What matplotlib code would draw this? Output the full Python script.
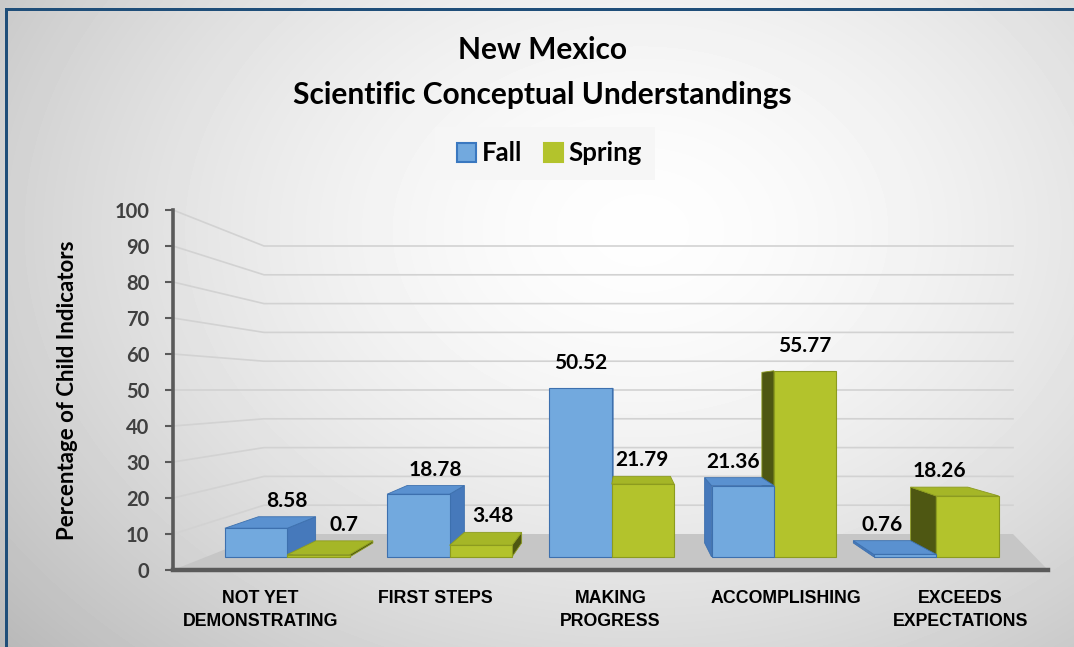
import matplotlib
matplotlib.use("Agg")
import matplotlib.pyplot as plt
import numpy as np
from matplotlib import font_manager
from matplotlib.patches import Polygon, Rectangle

# data
categories = ["NOT YET\nDEMONSTRATING", "FIRST STEPS", "MAKING\nPROGRESS",
              "ACCOMPLISHING", "EXCEEDS\nEXPECTATIONS"]
fall = [8.58, 18.78, 50.52, 21.36, 0.76]
spring = [0.7, 3.48, 21.79, 55.77, 18.26]
y_ticks = [0, 10, 20, 30, 40, 50, 60, 70, 80, 90, 100]
series_names = ["Fall", "Spring"]

W, H = 1074, 647

# fonts
installed = {f.name for f in font_manager.fontManager.ttflist}
MAIN_FONT = ["Lato", "DejaVu Sans"]
if "Liberation Sans Narrow" in installed:
    CAT_FONT, CAT_SIZE = ["Liberation Sans Narrow", "DejaVu Sans"], 15
else:
    CAT_FONT, CAT_SIZE = ["Liberation Sans", "DejaVu Sans"], 12.8
plt.rcParams["font.family"] = MAIN_FONT
plt.rcParams["font.weight"] = "bold"

# colours
FALL_FRONT, FALL_TOP, FALL_SIDE, FALL_EDGE = "#72a9de", "#5a91d0", "#4679bb", "#3d70ae"
SPR_FRONT, SPR_TOP, SPR_SIDE, SPR_EDGE = "#b3c32c", "#a5b627", "#4e5712", "#8c9b1f"
BORDER = "#1f4e79"
AXIS_GREY = "#5a5a5a"

# fake 3d perspective: vanishing point (data units) and depth scales
VX, VY = 2.1, 50.0
S_FRONT, S_BACK, S_WALL = 0.927, 0.85, 0.80
BAR_W = 0.385
WALL_RIGHT = 4.3


def proj(x, y, s):
    return VX + (x - VX) * s, VY + (y - VY) * s


def px(p):
    return p * 0.72


fig = plt.figure(figsize=(W / 100, H / 100), dpi=100, facecolor="#d4d4d4")

#######################################################################################################################
## background gradient + border
#######################################################################################################################
bg = fig.add_axes([0, 0, 1, 1], zorder=0)
gx, gy = np.meshgrid(np.arange(W + 20) - 10, np.arange(H + 20) - 10)
d = np.sqrt(((gx - 640) / 700.0) ** 2 + ((gy - 230) / 520.0) ** 2)
shade = 0.995 - 0.2 * np.clip(d, 0, 1.3) ** 1.6
bg.imshow(shade, cmap="gray", vmin=0, vmax=1, aspect="auto", interpolation="nearest",
          extent=[-10, W + 10, H + 10, -10])
bg.set_xlim(0, W)
bg.set_ylim(H, 0)
bg.axis("off")
bg.add_patch(Rectangle((5, 8), W, 3, color=BORDER, lw=0))
bg.add_patch(Rectangle((5, 8), 3, H, color=BORDER, lw=0))

# legend box
bg.add_patch(Rectangle((435, 127), 220, 53, color="#f6f6f6", lw=0))
bg.add_patch(Rectangle((457, 143), 19, 19, facecolor=FALL_FRONT, edgecolor="#3a78c0", lw=1.5))
bg.add_patch(Rectangle((544, 143), 19, 19, facecolor=SPR_FRONT, edgecolor=SPR_FRONT, lw=1.5))
bg.text(482, 153, series_names[0], fontsize=18.5, fontweight="bold", va="center", ha="left")
bg.text(568, 153, series_names[1], fontsize=18.5, fontweight="bold", va="center", ha="left")

# titles
bg.text(542, 50, "New Mexico", fontsize=21.5, fontweight="bold", ha="center", va="center")
bg.text(542, 95, "Scientific Conceptual Understandings", fontsize=21.5, fontweight="bold",
        ha="center", va="center")
bg.text(68, 390, "Percentage of Child Indicators", fontsize=16, fontweight="bold",
        rotation=90, ha="center", va="center")

#######################################################################################################################
## plot area
#######################################################################################################################
ax = fig.add_axes([173 / W, 1 - 570 / H, 875 / W, 360 / H], zorder=1)
ax.patch.set_visible(False)
ax.set_xlim(-0.5, 4.5)
ax.set_ylim(0, 100)

# floor
fl = [(-0.5, 0), (4.5, 0), (WALL_RIGHT, proj(-0.5, 0, S_WALL)[1]), proj(-0.5, 0, S_WALL)]
ax.add_patch(Polygon(fl, closed=True, facecolor="#c6c6c6", edgecolor="none", zorder=1, clip_on=False))

# gridlines on side and back wall
for v in y_ticks[1:]:
    wx, wy = proj(-0.5, v, S_WALL)
    ax.plot([-0.5, wx, WALL_RIGHT], [v, wy, wy], color="#d2d2d2", lw=1.2, zorder=0.5, clip_on=False)

# bars, painted far-from-centre first
bars = []
for i in range(len(categories)):
    bars.append((i - BAR_W, i, fall[i], FALL_FRONT, FALL_TOP, FALL_SIDE, FALL_EDGE))
    bars.append((i, i + BAR_W, spring[i], SPR_FRONT, SPR_TOP, SPR_SIDE, SPR_EDGE))
bars.sort(key=lambda b: -abs((b[0] + b[1]) / 2 - VX))

z = 2
for x0, x1, v, c_front, c_top, c_side, c_edge in bars:
    if x1 < VX:
        side = [proj(x1, 0, S_FRONT), proj(x1, v, S_FRONT), proj(x1, v, S_BACK), proj(x1, 0, S_BACK)]
        ax.add_patch(Polygon(side, facecolor=c_side, edgecolor=c_edge, lw=0.6, zorder=z))
    if x0 > VX:
        side = [proj(x0, 0, S_FRONT), proj(x0, v, S_FRONT), proj(x0, v, S_BACK), proj(x0, 0, S_BACK)]
        ax.add_patch(Polygon(side, facecolor=c_side, edgecolor=c_edge, lw=0.6, zorder=z))
    if v < VY:
        top = [proj(x0, v, S_FRONT), proj(x1, v, S_FRONT), proj(x1, v, S_BACK), proj(x0, v, S_BACK)]
        ax.add_patch(Polygon(top, facecolor=c_top, edgecolor=c_edge, lw=0.6, zorder=z))
    front = [proj(x0, 0, S_FRONT), proj(x1, 0, S_FRONT), proj(x1, v, S_FRONT), proj(x0, v, S_FRONT)]
    ax.add_patch(Polygon(front, facecolor=c_front, edgecolor=c_edge, lw=0.8, zorder=z + 0.5))
    z += 1

# value labels: above the back edge of the top face when it shows, else above the front
for x0, x1, v, *_ in bars:
    fx, fy = proj((x0 + x1) / 2, v, S_FRONT)
    bx, by = proj((x0 + x1) / 2, v, S_BACK)
    if by > fy:
        lx, ly, off = bx, by, 16
    else:
        lx, ly, off = fx, fy, 25
    ax.annotate(f"{v:g}", xy=(lx, ly), xytext=(0, px(off)), textcoords="offset points",
                ha="center", va="center", fontsize=15, fontweight="bold", color="black",
                zorder=50, annotation_clip=False)

# category labels
for i, name in enumerate(categories):
    ax.annotate(name, xy=(i, 0), xytext=(0, -px(20)), textcoords="offset points",
                ha="center", va="top", fontsize=CAT_SIZE, fontweight="bold", family=CAT_FONT,
                linespacing=1.45, annotation_clip=False)

# axes styling
for s in ["top", "right"]:
    ax.spines[s].set_visible(False)
ax.spines["left"].set_color(AXIS_GREY)
ax.spines["left"].set_linewidth(2.6)
ax.spines["bottom"].set_color(AXIS_GREY)
ax.spines["bottom"].set_linewidth(3.2)
ax.spines["left"].set_zorder(60)
ax.spines["bottom"].set_zorder(60)
ax.set_xticks([])
ax.set_yticks(y_ticks)
ax.set_yticklabels([str(t) for t in y_ticks])
ax.tick_params(axis="y", length=6, width=1.5, color=AXIS_GREY, labelcolor="#404040",
               labelsize=14.5, pad=11)
for lab in ax.get_yticklabels():
    lab.set_fontweight("bold")

plt.savefig("out.png", dpi=100, facecolor=fig.get_facecolor())
